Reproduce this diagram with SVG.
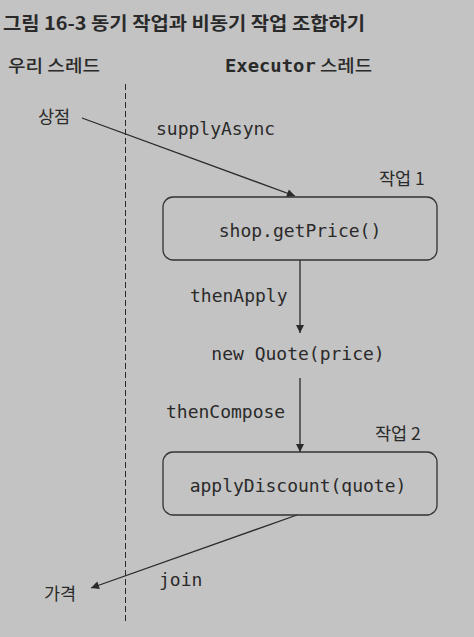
<svg xmlns="http://www.w3.org/2000/svg" width="474" height="637" viewBox="0 0 474 637">
<defs>
<style>
.kr{font-family:"Noto Sans CJK KR","Noto Sans",sans-serif;fill:#2a2a2a}
.mono{font-family:"DejaVu Sans Mono","Liberation Mono",monospace;font-size:18px;fill:#2a2a2a}
.box{fill:none;stroke:#333;stroke-width:1.3}
.conn{stroke:#2a2a2a;stroke-width:1.3;fill:none}
</style>
<marker id="ah" viewBox="0 0 10 10" refX="10" refY="5" markerWidth="9" markerHeight="8" markerUnits="userSpaceOnUse" orient="auto">
<path d="M0,0 L10,5 L0,10 z" fill="#2a2a2a"/>
</marker>
</defs>
<rect width="474" height="637" fill="#c3c3c3"/>
<text class="kr" x="3" y="30" font-size="18" font-weight="bold" textLength="362" lengthAdjust="spacingAndGlyphs">그림 16-3 동기 작업과 비동기 작업 조합하기</text>
<text class="kr" x="8" y="72" font-size="17" font-weight="500" textLength="92" lengthAdjust="spacingAndGlyphs">우리 스레드</text>
<text x="225" y="72" textLength="147" lengthAdjust="spacingAndGlyphs"><tspan font-family="DejaVu Sans Mono,monospace" font-weight="bold" font-size="17" fill="#2a2a2a">Executor</tspan><tspan class="kr" font-size="17" font-weight="500"> 스레드</tspan></text>
<line x1="125.5" y1="84" x2="125.5" y2="622" stroke="#2a2a2a" stroke-width="1" stroke-dasharray="6,3"/>
<g id="connectors">
<line class="conn" x1="82" y1="118" x2="295" y2="196" marker-end="url(#ah)"/>
<line class="conn" x1="300" y1="260" x2="300" y2="333" marker-end="url(#ah)"/>
<line class="conn" x1="300" y1="378" x2="300" y2="452" marker-end="url(#ah)"/>
<line class="conn" x1="297" y1="515" x2="91" y2="588" marker-end="url(#ah)"/>
</g>
<g id="labels">
<text class="kr" x="38" y="123" font-size="17.5">상점</text>
<text class="mono" x="156" y="135">supplyAsync</text>
<text class="mono" x="190" y="302">thenApply</text>
<text class="mono" x="166" y="418">thenCompose</text>
<text class="mono" x="159" y="586">join</text>
<text class="kr" x="44" y="600" font-size="17.5">가격</text>
</g>
<g id="task1">
<text class="kr" x="379" y="185" font-size="17.5">작업 1</text>
<rect class="box" x="163" y="197" width="274" height="63" rx="10"/>
<text class="mono" x="300" y="237" text-anchor="middle">shop.getPrice()</text>
</g>
<g id="quote">
<text class="mono" x="298" y="360" text-anchor="middle">new Quote(price)</text>
</g>
<g id="task2">
<text class="kr" x="375" y="440" font-size="17.5">작업 2</text>
<rect class="box" x="163" y="452" width="274" height="63" rx="10"/>
<text class="mono" x="298" y="492" text-anchor="middle">applyDiscount(quote)</text>
</g>
</svg>
